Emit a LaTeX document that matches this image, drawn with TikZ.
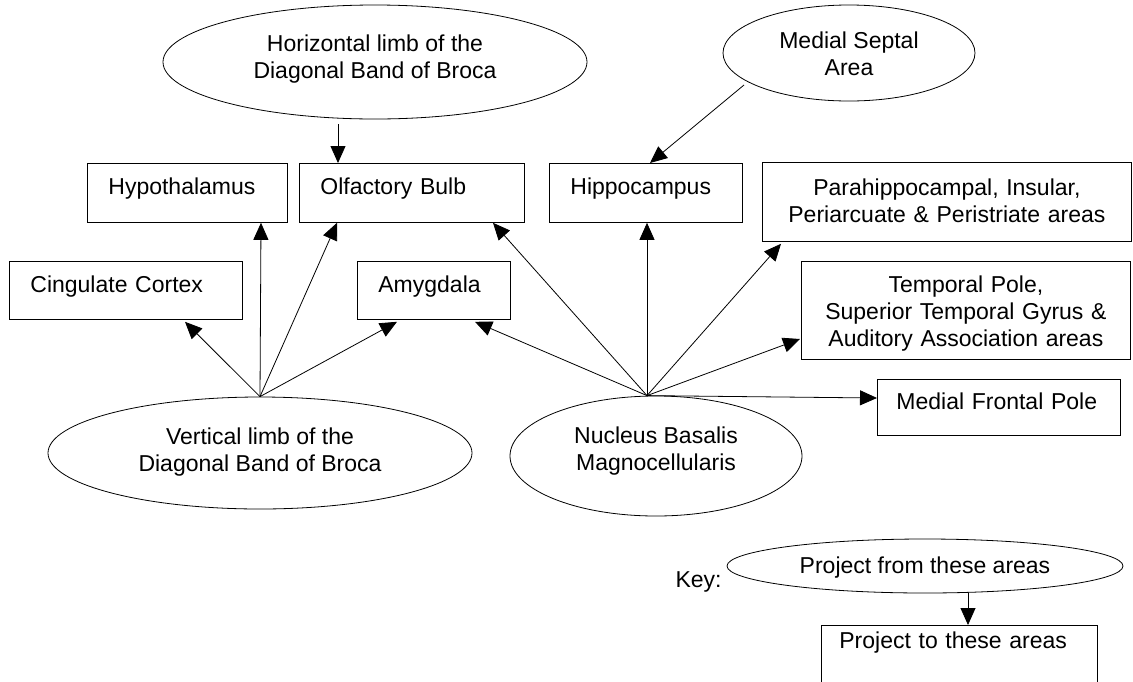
\documentclass[tikz,border=0pt]{standalone}
\usepackage{fontspec}
\setmainfont{Liberation Sans}
\usetikzlibrary{shapes.geometric,arrows.meta,calc}
\begin{document}
\begin{tikzpicture}[x=1pt,y=-1pt,
  every node/.style={font=\fontsize{23}{27}\selectfont},
  box/.style={draw, rectangle, anchor=north west, inner xsep=21pt, inner ysep=0pt,
    line width=0.8pt, text height=16pt, text depth=12pt, align=left},
  cbox/.style={draw, rectangle, anchor=north west, inner xsep=10pt, inner ysep=0pt,
    line width=0.8pt, align=center, text height=16pt},
  ell/.style={draw, ellipse, inner sep=0pt, line width=0.8pt, align=center, text height=16pt},
  arr/.style={-{Triangle[length=17pt,width=15pt]}, line width=0.8pt}
]
\clip (0,0) rectangle (1133,681);
\fill[white] (0,0) rectangle (1133,681);

% top ellipses
\node[ell, minimum width=424pt, minimum height=114pt, text height=32pt, text depth=0pt] (hdb) at (375,62)
  {Horizontal limb of the\\Diagonal Band of Broca};
\node[ell, minimum width=252pt, minimum height=96pt, text height=44pt, text depth=0pt] (msa) at (849,53)
  {Medial Septal\\Area};

% first row of boxes
\node[box, text width=158pt, minimum height=59pt] (hyp) at (87,163) {Hypothalamus};
\node[box, text width=183pt, minimum height=59pt] (olf) at (299,163) {Olfactory Bulb};
\node[box, text width=151pt, minimum height=59pt] (hip) at (549,163) {Hippocampus};
\node[cbox, text width=349pt, minimum height=79pt, text depth=29pt] (para) at (762,162)
  {Parahippocampal, Insular,\\Periarcuate \& Peristriate areas};

% second row
\node[box, text width=191pt, minimum height=58pt] (cing) at (9,261) {Cingulate Cortex};
\node[box, text width=111pt, minimum height=58pt] (amy) at (357,261) {Amygdala};
\node[cbox, text width=309pt, minimum height=98pt, text depth=52pt] (temp) at (801,261)
  {Temporal Pole,\\Superior Temporal Gyrus \&\\Auditory Association areas};
\node[box, inner xsep=19pt, text width=205pt, minimum height=56pt] (mfp) at (877,379) {Medial Frontal Pole};

% source ellipses
\node[ell, minimum width=424pt, minimum height=112pt, text height=36pt, text depth=0pt] (vdb) at (260,453)
  {Vertical limb of the\\Diagonal Band of Broca};
\node[ell, minimum width=292pt, minimum height=120pt, text height=28pt, text depth=0pt] (nbm) at (656,456)
  {Nucleus Basalis\\Magnocellularis};

% key
\node[anchor=base west] (keylbl) at (672,587) {Key:};
\node[ell, minimum width=396pt, minimum height=54pt, text depth=2pt] (kfrom) at (925,566)
  {Project from these areas};
\node[box, inner xsep=18pt, text width=240pt, minimum height=70pt, text depth=40pt] (kto) at (821,625)
  {Project to these areas};

% connectors
\draw[arr] ($(hdb.south)+(-37,5)$) -- ($(olf.north west)+(39,0)$);
\draw[arr] ($(msa.center)+(-105,32)$) -- ($(hip.north west)+(101,0)$);

\draw[arr] (vdb.north) -- ($(cing.south west)+(176,2)$);
\draw[arr] (vdb.north) -- ($(hyp.south west)+(174,0)$);
\draw[arr] (vdb.north) -- ($(olf.south west)+(38,0)$);
\draw[arr] (vdb.north) -- ($(amy.south west)+(40,2)$);

\coordinate (nbmtop) at ($(nbm.north)+(-9,0)$);
\draw[arr] (nbmtop) -- ($(amy.south west)+(118,2)$);
\draw[arr] (nbmtop) -- ($(olf.south west)+(194,0)$);
\draw[arr] (nbmtop) -- ($(hip.south west)+(98,0)$);
\draw[arr] (nbmtop) -- ($(para.south west)+(19,2)$);
\draw[arr] (nbmtop) -- ($(temp.north west)+(-1,78)$);
\draw[arr] (nbmtop) -- ($(mfp.north west)+(0,19)$);

\draw[arr] ($(kfrom.south)+(43,0)$) -- ($(kto.north west)+(147,0)$);
\end{tikzpicture}
\end{document}
